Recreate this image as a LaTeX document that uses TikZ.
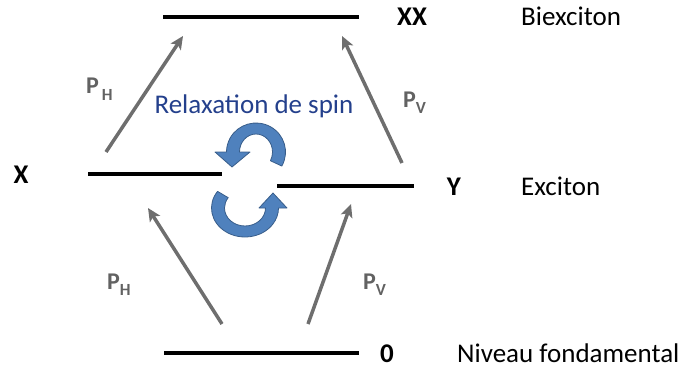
\documentclass[tikz,border=0pt]{standalone}
\usepackage{fontspec}
\setmainfont{Carlito}
\usetikzlibrary{arrows.meta,calc}
\definecolor{arrgray}{RGB}{110,110,110}
\definecolor{txtgray}{RGB}{98,98,98}
\definecolor{relblue}{RGB}{36,64,140}
\definecolor{cycfill}{RGB}{79,129,189}
\definecolor{cycdraw}{RGB}{56,93,138}
\begin{document}
\begin{tikzpicture}[x=1pt,y=-1pt,
  level/.style={line width=4pt},
  trans/.style={arrgray, line width=3.5pt, -{Stealth[length=13pt,width=12pt,inset=3pt]}},
  lbl/.style={font=\fontsize{27}{30}\selectfont, inner sep=0pt, anchor=base},
  statelbl/.style={lbl, font=\fontsize{27}{30}\selectfont\bfseries},
  plab/.style={txtgray, inner sep=0pt, anchor=base west, font=\fontsize{24}{26}\selectfont\bfseries},
  cyc/.style={fill=cycfill, draw=cycdraw, line width=0.8pt, line join=round}]
\useasboundingbox (0,0) rectangle (684,369);
% levels
\coordinate (xxL) at (163,17);  \coordinate (xxR) at (359,17);
\coordinate (xL) at (88,174);   \coordinate (xR) at (222,174);
\coordinate (yL) at (277,186);  \coordinate (yR) at (414,186);
\coordinate (gL) at (164,353);  \coordinate (gR) at (359,353);
\draw[level] (xxL) -- (xxR);
\draw[level] (xL) -- (xR);
\draw[level] (yL) -- (yR);
\draw[level] (gL) -- (gR);
% state labels
\node[statelbl] (lXX) at (412,26) {XX};
\node[statelbl] (lX) at (21,183) {X};
\node[statelbl] (lY) at (454,195) {Y};
\node[statelbl] (l0) at (387,362) {0};
\node[lbl, anchor=base west] (lBi) at (521,26) {Biexciton};
\node[lbl, anchor=base west] (lEx) at (521,195) {Exciton};
\node[lbl, anchor=base west] (lNf) at (457,362) {Niveau fondamental};
% transitions
\coordinate (t1a) at (106,152); \coordinate (t1b) at (183,36);
\coordinate (t2a) at (402,163); \coordinate (t2b) at (342,36);
\coordinate (t3a) at (222,324); \coordinate (t3b) at (148,208);
\coordinate (t4a) at (308,324); \coordinate (t4b) at (351,204);
\draw[trans] (t1a) -- (t1b);
\draw[trans] (t2a) -- (t2b);
\draw[trans] (t3a) -- (t3b);
\draw[trans] (t4a) -- (t4b);
\node[plab] (p1) at (86,93) {P\raisebox{-7pt}{\fontsize{17}{18}\selectfont\,H}};
\node[plab] (p2) at (403,107) {P\raisebox{-6pt}{\fontsize{17}{18}\selectfont V}};
\node[plab] (p3) at (107,289) {P\raisebox{-6pt}{\fontsize{17}{18}\selectfont H}};
\node[plab] (p4) at (363,289) {P\raisebox{-6pt}{\fontsize{17}{18}\selectfont V}};
% spin relaxation
\node[lbl, text=relblue] (rel) at (254,113) {Relaxation de spin};
\coordinate (U) at (256,152);
\coordinate (L) at (245,208);
\draw[cyc] ($(U)+(29:29.5 and 29)$) arc[start angle=29, end angle=-180, x radius=29.5, y radius=29]
  -- (215,152) -- (232,167) -- (250,152) -- (239.5,152)
  arc[start angle=-180, end angle=29, x radius=16.5, y radius=18] -- cycle;
\draw[cyc] ($(L)+(-145:33.5 and 29)$) arc[start angle=-145, end angle=-360, x radius=33.5, y radius=29]
  -- (287,208) -- (273,193) -- (259,208) -- (265.5,208)
  arc[start angle=-360, end angle=-145, x radius=20.5, y radius=18] -- cycle;
\end{tikzpicture}
\end{document}
